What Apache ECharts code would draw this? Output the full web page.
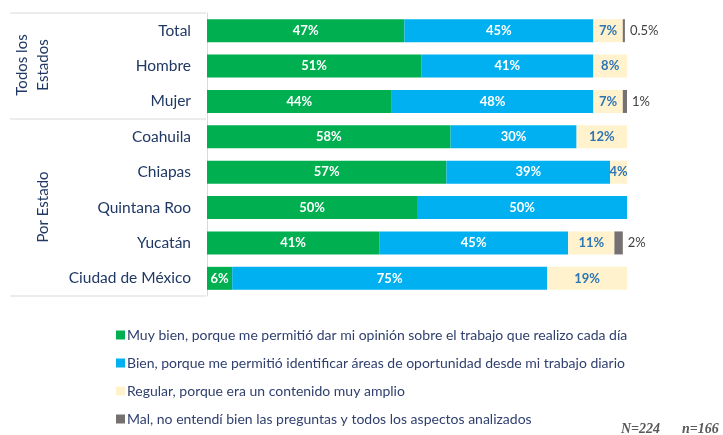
<!DOCTYPE html>
<html>
<head>
<meta charset="utf-8" />
<title>Opinión</title>
<script src="https://cdn.jsdelivr.net/npm/echarts@6/dist/echarts.min.js"></script>
<style>
  body { margin: 0; background: #fff; }
  #chart { width: 723px; height: 435px; }
</style>
</head>
<body>
<div id="chart"></div>
<script type="text/javascript">
// categorias (de arriba a abajo)
var categorias = ['Total', 'Hombre', 'Mujer', 'Coahuila', 'Chiapas', 'Quintana Roo', 'Yucatán', 'Ciudad de México'];
var nombres = [
    'Muy bien, porque me permitió dar mi opinión sobre el trabajo que realizo cada día',
    'Bien, porque me permitió identificar áreas de oportunidad desde mi trabajo diario',
    'Regular, porque era un contenido muy amplio',
    'Mal, no entendí bien las preguntas y todos los aspectos analizados'
];
var muyBien = [47, 51, 44, 58, 57, 50, 41, 6];
var bien = [45, 41, 48, 30, 39, 50, 45, 75];
var regular = [7, 8, 7, 12, 4, 0, 11, 19];
var mal = [0.5, 0, 1, 0, 0, 0, 2, 0];

var colores = ['#00B050', '#00B0F0', '#FFF2CC', '#767171'];
var fuente = 'Lato, "Open Sans", sans-serif';

function etiqueta(p) {
    return p.value > 0 ? p.value + '%' : '';
}

var myChart = echarts.init(document.getElementById('chart'));

myChart.setOption({
    animation: false,
    textStyle: { fontFamily: fuente },
    grid: { left: 207, right: 96, top: 13, bottom: 139 },
    xAxis: {
        type: 'value', min: 0, max: 100, show: false
    },
    yAxis: {
        type: 'category',
        inverse: true,
        data: categorias,
        axisLine: { show: true, lineStyle: { color: '#D9D9D9', width: 1 } },
        axisTick: { show: false },
        axisLabel: { color: '#1F3864', fontSize: 15.5, margin: 16, fontFamily: fuente }
    },
    legend: {
        orient: 'vertical',
        left: 111,
        top: 323,
        itemWidth: 9,
        itemHeight: 9,
        itemGap: 14,
        icon: 'rect',
        textStyle: { color: '#2F3F6E', fontSize: 14, fontFamily: fuente, padding: [0, 0, 0, -3] },
        data: nombres
    },
    graphic: [
        { type: 'line', shape: { x1: 10, y1: 13, x2: 206, y2: 13 }, style: { stroke: '#D9D9D9', lineWidth: 1 } },
        { type: 'line', shape: { x1: 10, y1: 119, x2: 206, y2: 119 }, style: { stroke: '#D9D9D9', lineWidth: 1 } },
        { type: 'line', shape: { x1: 10, y1: 296, x2: 206, y2: 296 }, style: { stroke: '#D9D9D9', lineWidth: 1 } },
        {
            type: 'text', x: 33, y: 65, rotation: Math.PI / 2,
            style: { text: 'Todos los\nEstados', fill: '#1F3864', font: '15px ' + fuente, align: 'center', verticalAlign: 'middle', lineHeight: 21 }
        },
        {
            type: 'text', x: 43, y: 207, rotation: Math.PI / 2,
            style: { text: 'Por Estado', fill: '#1F3864', font: '15px ' + fuente, align: 'center', verticalAlign: 'middle' }
        },
        {
            type: 'text', left: 621, top: 422,
            style: { text: 'N=224', fill: '#595959', font: 'italic bold 14px "Liberation Serif", serif' }
        },
        {
            type: 'text', left: 682, top: 422,
            style: { text: 'n=166', fill: '#595959', font: 'italic bold 14px "Liberation Serif", serif' }
        }
    ],
    series: [{
        name: nombres[0], type: 'bar', stack: 'total', barWidth: 23,
        itemStyle: { color: colores[0] },
        label: { show: true, position: 'inside', color: '#fff', fontWeight: 'bold', fontSize: 13, formatter: etiqueta },
        data: muyBien
    }, {
        name: nombres[1], type: 'bar', stack: 'total', barWidth: 23,
        itemStyle: { color: colores[1] },
        label: { show: true, position: 'inside', color: '#fff', fontWeight: 'bold', fontSize: 13, formatter: etiqueta },
        data: bien
    }, {
        name: nombres[2], type: 'bar', stack: 'total', barWidth: 23,
        itemStyle: { color: colores[2] },
        label: { show: true, position: 'inside', color: '#2E75B6', fontWeight: 'bold', fontSize: 13, formatter: etiqueta },
        data: regular
    }, {
        name: nombres[3], type: 'bar', stack: 'total', barWidth: 23,
        itemStyle: { color: colores[3] },
        label: { show: true, position: 'right', distance: 5, color: '#404040', fontSize: 13, formatter: etiqueta },
        data: mal
    }]
});
</script>
</body>
</html>
